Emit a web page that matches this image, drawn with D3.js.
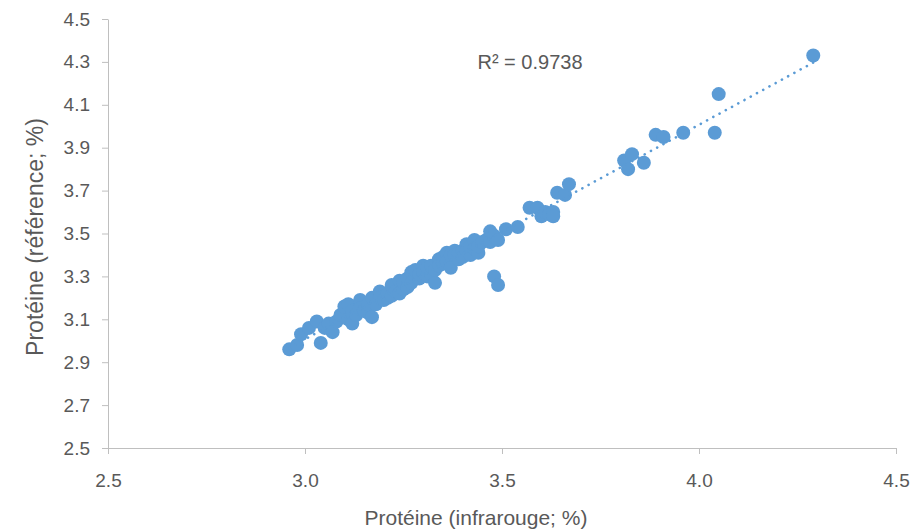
<!DOCTYPE html>
<html>
<head>
<meta charset="utf-8">
<script src="https://cdn.jsdelivr.net/npm/d3@7"></script>
<style>
  body { margin: 0; background: #fff; }
  text { font-family: "Liberation Sans", Arial, sans-serif; fill: #595959; }
</style>
</head>
<body>
<svg width="915" height="532"></svg>
<script>
// infrared protein (x) and reference protein (y)
var infrarouge = [2.96, 2.98, 2.99, 3.01, 3.03, 3.04, 3.05, 3.06, 3.07, 3.08, 3.09, 3.10, 3.11, 3.11,
    3.12, 3.12, 3.13, 3.14, 3.14, 3.15, 3.16, 3.16, 3.17, 3.17, 3.18, 3.19, 3.19, 3.20, 3.21, 3.21,
    3.22, 3.22, 3.23, 3.24, 3.24, 3.25, 3.25, 3.26, 3.26, 3.27, 3.27, 3.28, 3.28, 3.29, 3.29, 3.30,
    3.30, 3.31, 3.31, 3.32, 3.32, 3.33, 3.33, 3.34, 3.34, 3.35, 3.35, 3.36, 3.36, 3.37, 3.37, 3.38,
    3.38, 3.39, 3.39, 3.40, 3.40, 3.41, 3.41, 3.42, 3.42, 3.43, 3.43, 3.44, 3.44, 3.45, 3.46, 3.47,
    3.47, 3.48, 3.49, 3.48, 3.49, 3.51, 3.54, 3.57, 3.59, 3.60, 3.61, 3.62, 3.63, 3.63, 3.64, 3.66,
    3.67, 3.81, 3.82, 3.83, 3.86, 3.89, 3.91, 3.96, 4.04, 4.05, 4.29];
var reference = [2.96, 2.98, 3.03, 3.06, 3.09, 2.99, 3.06, 3.08, 3.04, 3.09, 3.12, 3.16, 3.10, 3.17,
    3.08, 3.14, 3.12, 3.19, 3.15, 3.14, 3.13, 3.17, 3.11, 3.20, 3.17, 3.23, 3.20, 3.19, 3.20, 3.22,
    3.21, 3.26, 3.23, 3.22, 3.28, 3.24, 3.27, 3.25, 3.29, 3.32, 3.27, 3.30, 3.33, 3.29, 3.31, 3.35,
    3.32, 3.30, 3.34, 3.35, 3.31, 3.27, 3.33, 3.38, 3.35, 3.36, 3.39, 3.41, 3.37, 3.34, 3.40, 3.42,
    3.40, 3.38, 3.41, 3.42, 3.39, 3.45, 3.42, 3.40, 3.44, 3.47, 3.43, 3.41, 3.44, 3.46, 3.47, 3.51,
    3.46, 3.49, 3.47, 3.30, 3.26, 3.52, 3.53, 3.62, 3.62, 3.58, 3.60, 3.59, 3.60, 3.58, 3.69, 3.68,
    3.73, 3.84, 3.80, 3.87, 3.83, 3.96, 3.95, 3.97, 3.97, 4.15, 4.33];
var xTicks = [2.5, 3.0, 3.5, 4.0, 4.5];
var yTicks = [2.5, 2.7, 2.9, 3.1, 3.3, 3.5, 3.7, 3.9, 4.1, 4.3, 4.5];
var rSquaredLabel = "R² = 0.9738";

var points = infrarouge.map(function (d, i) {
    return { x: d, y: reference[i] };
});

var svg = d3.select('svg');
var blue = '#5B9BD5';
var axisGrey = '#BFBFBF';

var x = d3.scaleLinear().domain([2.5, 4.5]).range([108, 896]);
var y = d3.scaleLinear().domain([2.5, 4.5]).range([448, 19]);

// axes
var xAxis = svg.append('g')
    .attr('transform', 'translate(0,' + y(2.5) + ')')
    .call(d3.axisBottom(x).tickValues(xTicks).tickFormat(d3.format('.1f')).tickSizeInner(6).tickSizeOuter(0).tickPadding(20));

var yAxis = svg.append('g')
    .attr('transform', 'translate(' + x(2.5) + ',0)')
    .call(d3.axisLeft(y).tickValues(yTicks).tickFormat(d3.format('.1f')).tickSizeInner(6).tickSizeOuter(0).tickPadding(12));

[xAxis, yAxis].forEach(function (g) {
    g.selectAll('path, line').attr('stroke', axisGrey);
    g.selectAll('text').style('font-size', '19px').attr('fill', '#595959');
});

// linear trend line from the points
var mx = d3.mean(points, function (d) { return d.x; });
var my = d3.mean(points, function (d) { return d.y; });
var sxy = d3.sum(points, function (d) { return (d.x - mx) * (d.y - my); });
var sxx = d3.sum(points, function (d) { return (d.x - mx) * (d.x - mx); });
var slope = sxy / sxx;
var intercept = my - slope * mx;
var xr = d3.extent(points, function (d) { return d.x; });

svg.append('g').selectAll('circle')
    .data(points)
    .enter().append('circle')
    .attr('cx', function (d) { return x(d.x); })
    .attr('cy', function (d) { return y(d.y); })
    .attr('r', 7)
    .attr('fill', blue);

svg.append('line')
    .attr('x1', x(xr[0]))
    .attr('y1', y(intercept + slope * xr[0]))
    .attr('x2', x(xr[1]))
    .attr('y2', y(intercept + slope * xr[1]))
    .attr('stroke', blue)
    .attr('stroke-width', 2.6)
    .attr('stroke-linecap', 'round')
    .attr('stroke-dasharray', '0.1 7');

svg.append('text')
    .attr('x', 530)
    .attr('y', 69)
    .attr('text-anchor', 'middle')
    .style('font-size', '20px')
    .text(rSquaredLabel);

// axis titles
svg.append('text')
    .attr('x', 476)
    .attr('y', 525)
    .attr('text-anchor', 'middle')
    .style('font-size', '21px')
    .text('Protéine (infrarouge; %)');

svg.append('text')
    .attr('transform', 'translate(43,237) rotate(-90)')
    .attr('text-anchor', 'middle')
    .style('font-size', '23px')
    .text('Protéine (référence; %)');
</script>
</body>
</html>
